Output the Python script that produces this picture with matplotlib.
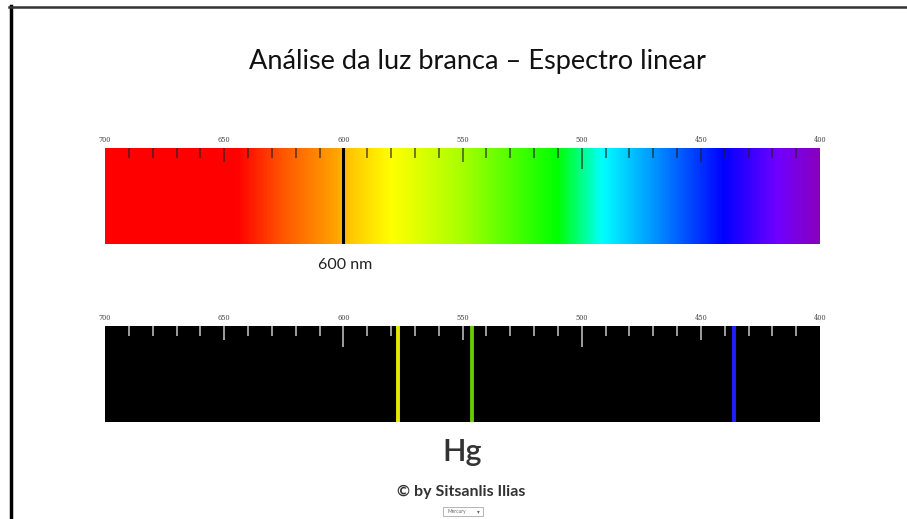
import matplotlib.pyplot as plt
import numpy as np
from matplotlib.colors import LinearSegmentedColormap
from matplotlib.lines import Line2D
from matplotlib.patches import Rectangle

# spectrum colour stops (nm, colour)
stop_nm = [700, 645, 626, 604, 597, 580, 551, 510, 491, 465, 440, 417, 400]
stop_col = ['#ff0000', '#ff0000', '#ff5500', '#ffa000', '#ffc800', '#ffff00',
            '#aaff00', '#00ff00', '#00ffff', '#0080ff', '#0000ff', '#7000ff', '#8800c0']

# mercury emission lines
hg_nm = [577, 546, 436]
hg_col = ['#e8e800', '#66cc00', '#1f1fff']

tick_labels = [700, 650, 600, 550, 500, 450, 400]
marker_nm = 600

W, H = 907, 519
fig = plt.figure(figsize=(W / 100, H / 100), dpi=100)
fig.patch.set_facecolor('white')


def px_axes(x0, y0, x1, y1):
    return fig.add_axes([x0 / W, 1 - y1 / H, (x1 - x0) / W, (y1 - y0) / H])


def add_ticks(ax, col, alpha):
    for nm in range(400, 701, 10):
        if nm in (400, 700):
            continue
        if nm % 100 == 0:
            ln = 0.22
        elif nm % 50 == 0:
            ln = 0.15
        else:
            ln = 0.10
        ax.plot([nm, nm], [1, 1 - ln], color=col, lw=1.2, alpha=alpha,
                solid_capstyle='butt')
    for nm in tick_labels:
        ax.text(nm, 1.04, str(nm), ha='center', va='bottom', fontsize=4.8,
                color='#444444', family='DejaVu Serif')


def setup(ax):
    ax.set_xlim(700, 400)
    ax.set_ylim(0, 1)
    ax.axis('off')


# top bar: continuous spectrum
pos = [(700 - n) / 300 for n in stop_nm]
cmap = LinearSegmentedColormap.from_list('spec', list(zip(pos, stop_col)))
ax1 = px_axes(105, 148, 820, 244)
grad = np.linspace(0, 1, 600).reshape(1, -1)
ax1.imshow(grad, cmap=cmap, aspect='auto', extent=[700, 400, 0, 1])
setup(ax1)
add_ticks(ax1, '#222222', 0.7)
ax1.plot([marker_nm, marker_nm], [0, 1], color='black', lw=2.2)

# bottom bar: Hg line spectrum
ax2 = px_axes(105, 326, 820, 422)
ax2.add_patch(Rectangle((700, 0), -300, 1, color='black'))
setup(ax2)
for nm, c in zip(hg_nm, hg_col):
    ax2.plot([nm, nm], [0, 1], color=c, lw=2.8)
add_ticks(ax2, '#cccccc', 0.9)

font = ['Lato', 'DejaVu Sans']
fig.text(477 / W, 1 - 61 / H, 'Análise da luz branca – Espectro linear',
         ha='center', va='center', fontsize=19.5, family=font, color='#111111')
fig.text(345 / W, 1 - 265 / H, f'{marker_nm} nm', ha='center', va='center',
         fontsize=11.5, family=font, color='#222222')
fig.text(462 / W, 1 - 452 / H, 'Hg', ha='center', va='center', fontsize=22,
         family=font, color='#333333', weight='semibold')
fig.text(461 / W, 1 - 492 / H, '© by Sitsanlis Ilias', ha='center', va='center',
         fontsize=11.5, family=font, color='#333333', weight='bold')

# small selector box
fig.patches.append(Rectangle((443 / W, 1 - 516 / H), 40 / W, 9 / H,
                             transform=fig.transFigure, facecolor='white',
                             edgecolor='#aaaaaa', lw=0.6))
fig.text(447 / W, 1 - 511.5 / H, 'Mercury', ha='left', va='center',
         fontsize=3.5, color='#666666', family=font)
fig.text(478 / W, 1 - 511.5 / H, '▾', ha='center', va='center',
         fontsize=4, color='#666666')

# frame
fig.lines.append(Line2D([10.5 / W, 10.5 / W], [0, 1 - 6 / H], color='black',
                        lw=2.5, transform=fig.transFigure))
fig.lines.append(Line2D([9 / W, 1], [1 - 7 / H, 1 - 7 / H], color='#333333',
                        lw=1.8, transform=fig.transFigure))

fig.savefig('out.png', dpi=100)
